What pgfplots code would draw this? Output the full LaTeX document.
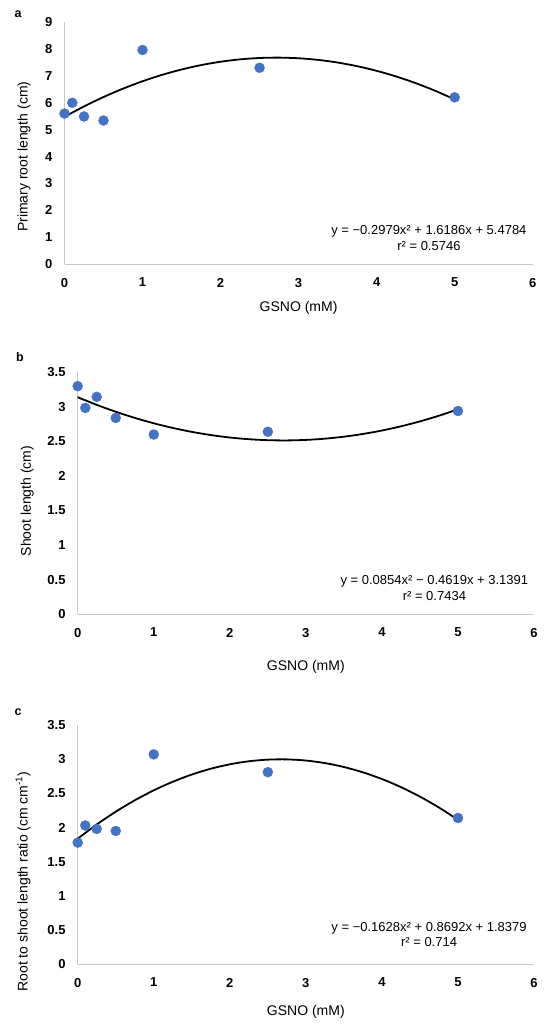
\documentclass[border=0pt]{standalone}
\usepackage{pgfplots}
\pgfplotsset{compat=1.18}
\usepackage{fontspec}
\setmainfont{Liberation Sans}
\definecolor{ptblue}{HTML}{4472C4}
\definecolor{axgray}{HTML}{C8C8C8}
\pgfplotsset{
  panel/.style={
    scale only axis,
    axis x line=bottom, axis y line=left,
    axis line style={-, draw=axgray, line width=1pt},
    xmin=0, xmax=6, ymin=0,
    xtick={0,1,2,3,4,5,6},
    major tick length=0pt,
    tick style={draw=none},
    clip=false,
    /pgf/number format/assume math mode=true,
    ticklabel style={font=\fontsize{13}{14}\selectfont\bfseries},
    xticklabel style={anchor=north, inner sep=0pt, yshift=-13.5pt},
    yticklabel style={anchor=east, inner sep=0pt, xshift=-12pt},
    xlabel={GSNO (mM)},
  },
  datapts/.style={only marks, mark=*, mark size=5pt, mark options={fill=ptblue, draw=ptblue}},
  trend/.style={no marks, smooth, black, line width=1.8pt},
}
\begin{document}
\begin{tikzpicture}
\useasboundingbox (0,0) rectangle (550pt,1027pt);
% ---------------- panel a
\begin{axis}[panel, at={(64.5pt,762.7pt)}, anchor=south west,
  width=468.2pt, height=242.3pt, ymax=9, ytick={0,1,...,9},
  ylabel={Primary root length (cm)},
  every axis y label/.style={at={(axis description cs:-0.0865,0.444)}, anchor=center, rotate=90, font=\fontsize{14}{16}\selectfont},
  every axis x label/.style={at={(axis description cs:0.5,0)}, anchor=center, yshift=-44pt, font=\fontsize{14}{16}\selectfont}]
\addplot[datapts] coordinates {(0,5.60) (0.1,6.00) (0.25,5.49) (0.5,5.34) (1,7.96) (2.5,7.30) (5,6.20)};
\addplot[trend] coordinates {(0,5.4784) (0.25,5.8644) (0.5,6.2132) (0.75,6.5248) (1,6.7991) (1.25,7.0362) (1.5,7.2360) (1.75,7.3986) (2,7.5240) (2.25,7.6121) (2.5,7.6630) (2.75,7.6767) (3,7.6531) (3.25,7.5923) (3.5,7.4942) (3.75,7.3589) (4,7.1864) (4.25,6.9766) (4.5,6.7296) (4.75,6.4454) (5,6.1239)};
\node[align=center, font=\fontsize{13}{15.5}\selectfont] at (axis cs:4.67,0.98) {y = −0.2979x² + 1.6186x + 5.4784\\r² = 0.5746};
\end{axis}
% ---------------- panel b
\begin{axis}[panel, at={(77.7pt,412.7pt)}, anchor=south west,
  width=456.3pt, height=242pt, ymax=3.5, ytick={0,0.5,...,3.5},
  yticklabel style={/pgf/number format/fixed},
  ylabel={Shoot length (cm)},
  every axis y label/.style={at={(axis description cs:-0.1105,0.468)}, anchor=center, rotate=90, font=\fontsize{14}{16}\selectfont},
  every axis x label/.style={at={(axis description cs:0.5,0)}, anchor=center, yshift=-53pt, font=\fontsize{14}{16}\selectfont}]
\addplot[datapts] coordinates {(0,3.30) (0.1,2.985) (0.25,3.145) (0.5,2.84) (1,2.60) (2.5,2.64) (5,2.94)};
\addplot[trend] coordinates {(0,3.1391) (0.25,3.0290) (0.5,2.9295) (0.75,2.8407) (1,2.7626) (1.25,2.6952) (1.5,2.6384) (1.75,2.5923) (2,2.5569) (2.25,2.5322) (2.5,2.5181) (2.75,2.5147) (3,2.5220) (3.25,2.5400) (3.5,2.5686) (3.75,2.6079) (4,2.6579) (4.25,2.7186) (4.5,2.7899) (4.75,2.8719) (5,2.9646)};
\node[align=center, font=\fontsize{13}{15.5}\selectfont] at (axis cs:4.69,0.377) {y = 0.0854x² − 0.4619x + 3.1391\\r² = 0.7434};
\end{axis}
% ---------------- panel c
\begin{axis}[panel, at={(77.7pt,62.7pt)}, anchor=south west,
  width=456.3pt, height=239.3pt, ymax=3.5, ytick={0,0.5,...,3.5},
  yticklabel style={/pgf/number format/fixed},
  ylabel={Root to shoot length ratio (cm cm\textsuperscript{-1})},
  every axis y label/.style={at={(axis description cs:-0.1199,0.346)}, anchor=center, rotate=90, font=\fontsize{14}{16}\selectfont},
  every axis x label/.style={at={(axis description cs:0.5,0)}, anchor=center, yshift=-47.4pt, font=\fontsize{14}{16}\selectfont}]
\addplot[datapts] coordinates {(0,1.78) (0.1,2.03) (0.25,1.98) (0.5,1.95) (1,3.07) (2.5,2.81) (5,2.14)};
\addplot[trend] coordinates {(0,1.8379) (0.25,2.0450) (0.5,2.2318) (0.75,2.3982) (1,2.5443) (1.25,2.6700) (1.5,2.7754) (1.75,2.8604) (2,2.9251) (2.25,2.9694) (2.5,2.9934) (2.75,2.9970) (3,2.9803) (3.25,2.9432) (3.5,2.8858) (3.75,2.8080) (4,2.7099) (4.25,2.5914) (4.5,2.4526) (4.75,2.2934) (5,2.1139)};
\node[align=center, font=\fontsize{13}{15.5}\selectfont] at (axis cs:4.62,0.436) {y = −0.1628x² + 0.8692x + 1.8379\\r² = 0.714};
\end{axis}
% panel letters
\node[font=\fontsize{12.5}{14}\selectfont\bfseries] at (18pt,1013pt) {a};
\node[font=\fontsize{12.5}{14}\selectfont\bfseries] at (20pt,669.7pt) {b};
\node[font=\fontsize{12.5}{14}\selectfont\bfseries] at (18pt,314.7pt) {c};
\end{tikzpicture}
\end{document}
